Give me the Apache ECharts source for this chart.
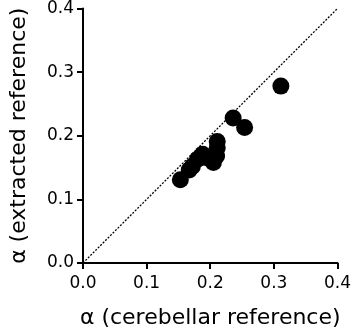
<!DOCTYPE html>
<html>
<head>
<meta charset="utf-8">
<script src="https://cdn.jsdelivr.net/npm/echarts@6/dist/echarts.min.js"></script>
<style>
  html, body { margin: 0; padding: 0; background: #fff; }
  #main { width: 354px; height: 334px; }
</style>
</head>
<body>
<div id="main"></div>
<script>
// alpha values, cerebellar reference (x) vs extracted reference (y)
var cerebellar = [0.153, 0.167, 0.172, 0.180, 0.188, 0.193, 0.205, 0.210, 0.211, 0.211, 0.236, 0.254, 0.311];
var extracted = [0.131, 0.146, 0.152, 0.163, 0.171, 0.166, 0.158, 0.168, 0.181, 0.191, 0.228, 0.213, 0.278];
// identity line ends
var identity = [[0, 0], [0.4, 0.4]];
var ticks = [0, 0.1, 0.2, 0.3, 0.4];

var pts = [];
for (var i = 0; i < cerebellar.length; i++) {
  pts.push([cerebellar[i], extracted[i]]);
}

var font = 'DejaVu Sans, sans-serif';

function axis(name, gap, labelMargin) {
  return {
    type: 'value',
    min: ticks[0],
    max: ticks[ticks.length - 1],
    interval: 0.1,
    name: name,
    nameLocation: 'middle',
    nameGap: gap,
    nameTextStyle: { color: '#000', fontSize: 22, fontFamily: font },
    axisLine: { show: true, lineStyle: { color: '#000', width: 2 } },
    axisTick: { show: true, length: 6, lineStyle: { color: '#000', width: 2 } },
    axisLabel: {
      color: '#000', fontSize: 17, fontFamily: font, margin: labelMargin,
      formatter: function (v) { return v.toFixed(1); }
    },
    splitLine: { show: false }
  };
}

var myChart = echarts.init(document.getElementById('main'));
var option = {
  animation: false,
  grid: { left: 80, right: 14, top: 8, bottom: 66 },
  xAxis: axis('α (cerebellar reference)', 44, 12),
  yAxis: axis('α (extracted reference)', 53, 9),
  series: [
    {
      type: 'line',
      data: identity,
      symbol: 'none',
      silent: true,
      lineStyle: { color: '#000', width: 1.3, type: [2, 1.5] },
      z: 1
    },
    {
      type: 'scatter',
      data: pts,
      symbolSize: 17,
      itemStyle: { color: '#000', opacity: 1 },
      z: 2
    }
  ]
};
myChart.setOption(option);
</script>
</body>
</html>
